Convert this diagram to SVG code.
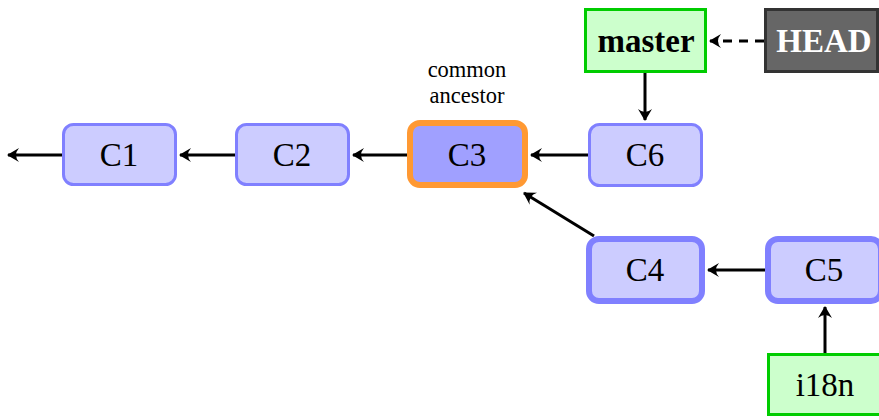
<svg xmlns="http://www.w3.org/2000/svg" width="879" height="420" viewBox="0 0 879 420" font-family="'Liberation Serif', 'Times New Roman', 'DejaVu Serif', serif">
<style>
.commit rect{fill:#ccccff;stroke:#8080ff;stroke-width:3}
.thick rect{stroke-width:6}
.anc rect{fill:#a0a0ff;stroke:#ff9933;stroke-width:6}
.branch rect{fill:#ccffcc;stroke:#00cc00;stroke-width:3}
.head rect{fill:#666666;stroke:#333333;stroke-width:3}
text{text-anchor:middle}
.lbl{font-size:33px;fill:#000}
.bold{font-weight:bold}
.white{fill:#ffffff}
.note{font-size:22.5px;fill:#000}
.edge{stroke:#000;stroke-width:3;fill:none;marker-end:url(#ah)}
.dash{stroke-dasharray:9,7}
</style>
<defs>
<marker id="ah" markerUnits="userSpaceOnUse" markerWidth="20" markerHeight="20" viewBox="-14 -10 20 20" refX="0" refY="0" orient="auto">
<path d="M1,0 L-11,-7 Q-5,0 -11,7 Z" fill="#000"/>
</marker>
</defs>
<g id="connectors">
<line class="edge" x1="62" y1="155" x2="8" y2="155"/>
<line class="edge" x1="235" y1="155" x2="180" y2="155"/>
<line class="edge" x1="407" y1="155" x2="353" y2="155"/>
<line class="edge" x1="588" y1="155" x2="531" y2="155"/>
<line class="edge" x1="645" y1="72" x2="645" y2="120"/>
<line class="edge dash" x1="764" y1="41" x2="710" y2="41"/>
<line class="edge" x1="594" y1="236" x2="524" y2="193"/>
<line class="edge" x1="765" y1="270" x2="708" y2="270"/>
<line class="edge" x1="825" y1="353" x2="825" y2="307"/>
</g>
<g id="C1" class="commit"><rect x="63.5" y="124.5" width="112" height="60" rx="10"/><text class="lbl" x="119" y="166">C1</text></g>
<g id="C2" class="commit"><rect x="236.5" y="124.5" width="112" height="60" rx="10"/><text class="lbl" x="292" y="166">C2</text></g>
<g id="C3" class="anc"><rect x="410" y="123" width="115" height="62" rx="10"/><text class="lbl" x="467" y="166">C3</text></g>
<g id="C6" class="commit"><rect x="589.5" y="124.5" width="112" height="61" rx="10"/><text class="lbl" x="645" y="166">C6</text></g>
<g id="C4" class="commit thick"><rect x="589" y="239" width="113" height="62" rx="10"/><text class="lbl" x="645" y="281">C4</text></g>
<g id="C5" class="commit thick"><rect x="768" y="239" width="113" height="62" rx="10"/><text class="lbl" x="824" y="281">C5</text></g>
<g id="i18n" class="branch"><rect x="768.5" y="354.5" width="113" height="60"/><text class="lbl" x="825" y="396">i18n</text></g>
<g id="master" class="branch"><rect x="585.5" y="9.5" width="120" height="62"/><text class="lbl bold" x="646" y="52">master</text></g>
<g id="HEAD" class="head"><rect x="765.5" y="9.5" width="112" height="62"/><text class="lbl bold white" x="824" y="52">HEAD</text></g>
<g id="note"><text class="note" x="467" y="77">common</text><text class="note" x="467" y="103">ancestor</text></g>
</svg>
